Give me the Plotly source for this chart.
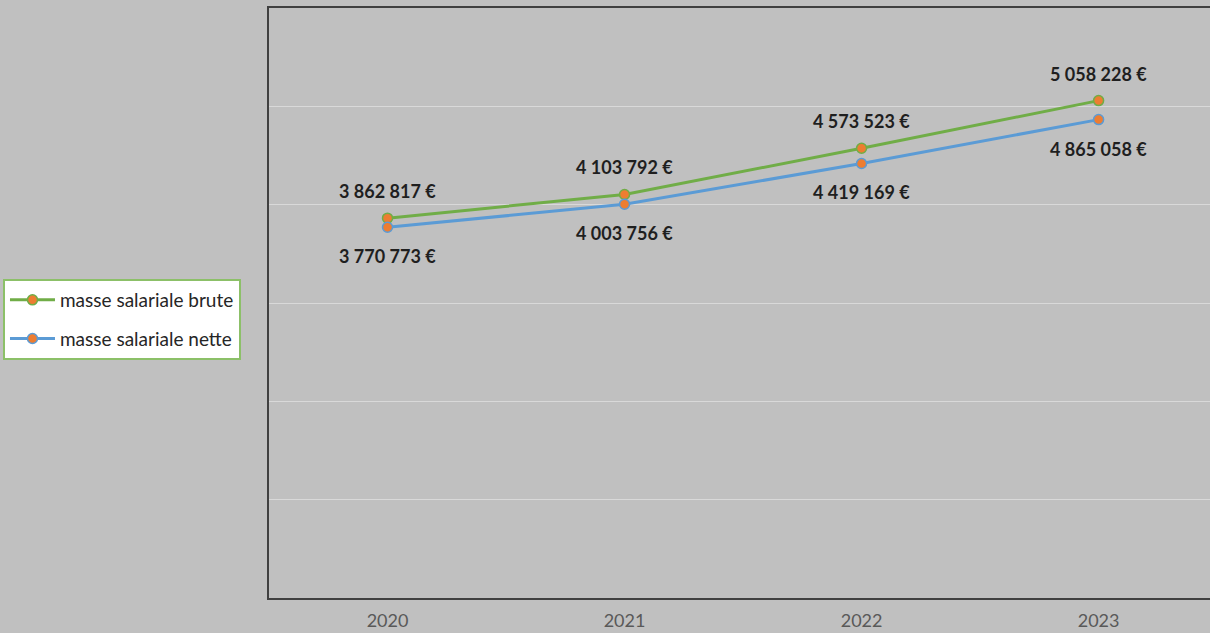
import plotly.graph_objects as go

years = ["2020", "2021", "2022", "2023"]
brute = [3862817, 4103792, 4573523, 5058228]
nette = [3770773, 4003756, 4419169, 4865058]
series_names = ["masse salariale brute", "masse salariale nette"]


def fmt(v):
    return f"{v:,}".replace(",", " ") + " €"


fig = go.Figure()
fig.add_trace(go.Scatter(
    x=years, y=brute, name=series_names[0], mode="lines+markers",
    line=dict(color="#70ad47", width=3),
    marker=dict(color="#ed7d31", size=10, line=dict(color="#70ad47", width=1.5)),
    legendgroup="a",
))
fig.add_trace(go.Scatter(
    x=years, y=nette, name=series_names[1], mode="lines+markers",
    line=dict(color="#5b9bd5", width=3),
    marker=dict(color="#ed7d31", size=10, line=dict(color="#5b9bd5", width=1.5)),
    legendgroup="b",
))

label_font = dict(family="Lato", size=18, color="#1f1f1f", weight="bold")
ann = []
for i, v in enumerate(brute):
    ann.append(dict(x=i, y=v, xref="x", yref="y", text=fmt(v), showarrow=False,
                    yshift=27, font=label_font))
for i, v in enumerate(nette):
    ann.append(dict(x=i, y=v, xref="x", yref="y", text=fmt(v), showarrow=False,
                    yshift=-29, font=label_font))

fig.update_layout(
    width=1210, height=633,
    margin=dict(l=269, r=0, t=8, b=35, autoexpand=False),
    paper_bgcolor="#c0c0c0", plot_bgcolor="#c0c0c0",
    font=dict(family="Lato", color="#262626"),
    annotations=ann,
    showlegend=True,
    legend=dict(
        x=-0.2827, xanchor="left", y=0.5407, yanchor="top",
        bgcolor="#ffffff", bordercolor="#8cc068", borderwidth=2,
        font=dict(family="Lato", size=19, color="#262626"),
        traceorder="grouped", tracegroupgap=11, itemwidth=45,
    ),
    xaxis=dict(
        type="category", range=[-0.5, 3.47], automargin=False,
        showline=True, linecolor="#404040", linewidth=2, mirror=True,
        showgrid=False, ticks="",
        tickfont=dict(family="Lato", size=18, color="#595959"),
        ticklabelstandoff=5,
    ),
    yaxis=dict(
        range=[0, 6000000], dtick=1000000, automargin=False,
        showticklabels=False, showgrid=True, gridcolor="#d9d9d9", gridwidth=1,
        zeroline=False, showline=True, linecolor="#404040", linewidth=2,
        ticks="",
    ),
)

fig.write_html("out.html")
